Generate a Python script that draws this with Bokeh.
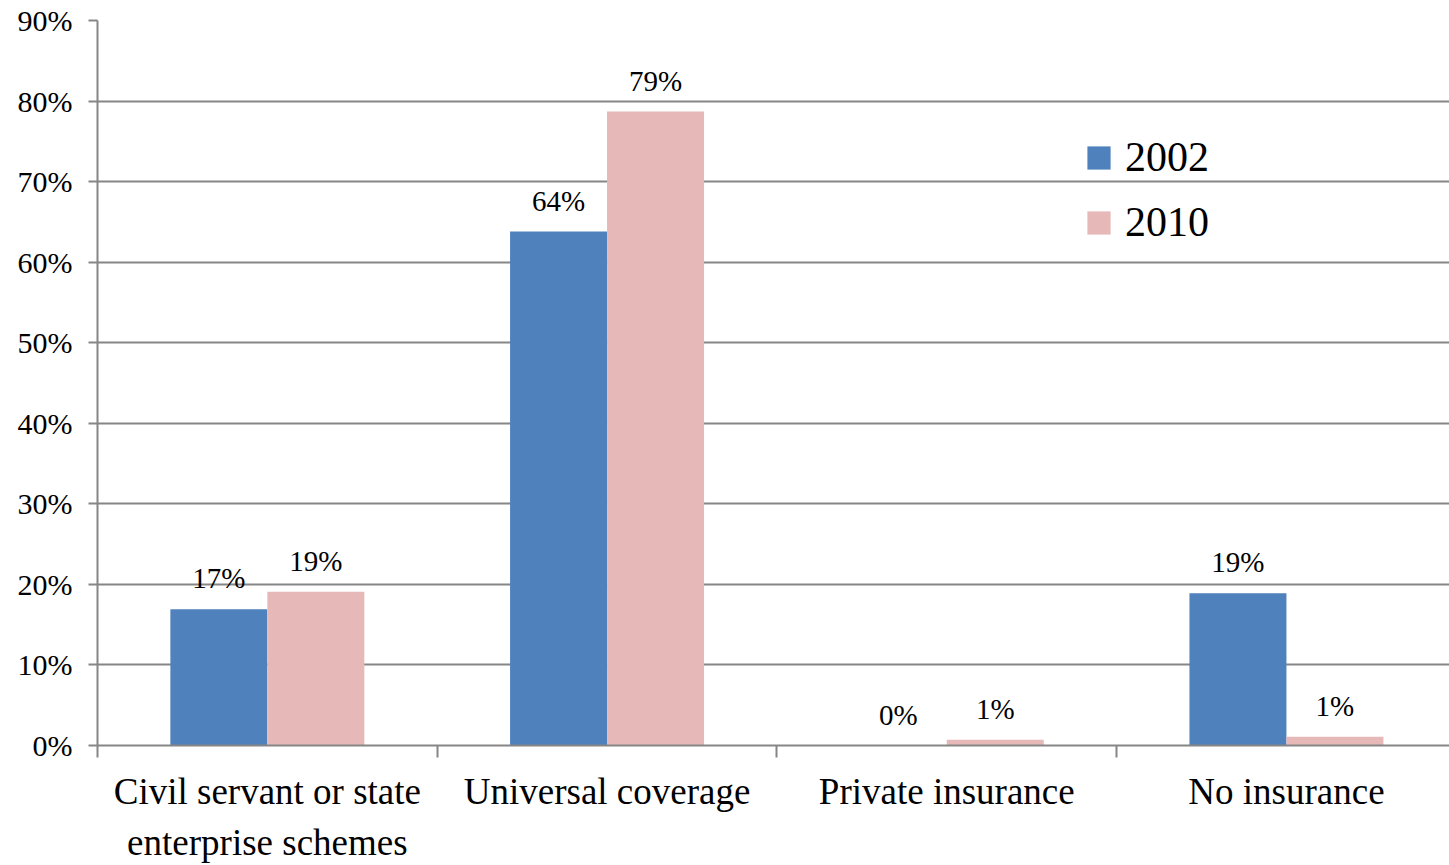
from bokeh.plotting import figure
from bokeh.models import (ColumnDataSource, FixedTicker, PrintfTickFormatter, Range1d,
                          Legend, LegendItem)
from bokeh.embed import file_html
from bokeh.resources import INLINE
from bokeh.core.properties import value

categories = ["Civil servant or state\nenterprise schemes", "Universal coverage",
              "Private insurance", "No insurance"]
series_names = ["2002", "2010"]
values_2002 = [16.9, 63.8, 0.0, 18.9]
values_2010 = [19.1, 78.7, 0.7, 1.1]
labels_2002 = ["17%", "64%", "0%", "19%"]
labels_2010 = ["19%", "79%", "1%", "1%"]
colors = ["#4F81BD", "#E6B9B8"]
y_ticks = [0, 10, 20, 30, 40, 50, 60, 70, 80, 90]

FONT = "Liberation Serif"
GRAY = "#868686"

centers = [i + 0.5 for i in range(len(categories))]
bw = 0.2855

p = figure(width=1449, height=865, output_backend="svg", toolbar_location=None,
           x_range=Range1d(0, 3.98), y_range=Range1d(0, 90),
           min_border_left=97, min_border_right=0, min_border_top=20, min_border_bottom=120)
p.outline_line_color = None
p.background_fill_color = "white"
p.border_fill_color = "white"

src1 = ColumnDataSource(dict(x=[c - bw / 2 for c in centers], top=values_2002, lab=labels_2002))
src2 = ColumnDataSource(dict(x=[c + bw / 2 for c in centers], top=values_2010, lab=labels_2010))

r1 = p.vbar(x="x", top="top", bottom=0, width=bw, source=src1, fill_color=colors[0], line_color=None)
r2 = p.vbar(x="x", top="top", bottom=0, width=bw, source=src2, fill_color=colors[1], line_color=None)

for s in (src1, src2):
    p.text(x="x", y="top", text="lab", source=s, text_align="center", text_baseline="middle",
           y_offset=-31, text_font=value(FONT), text_font_size="29px", text_color="black")

# grid
p.xgrid.grid_line_color = None
p.ygrid.grid_line_color = GRAY
p.ygrid.grid_line_width = 2
p.ygrid.ticker = FixedTicker(ticks=y_ticks)

# y axis
p.yaxis.ticker = FixedTicker(ticks=y_ticks)
p.yaxis.formatter = PrintfTickFormatter(format="%d%%")
p.yaxis.axis_line_color = GRAY
p.yaxis.axis_line_width = 2
p.yaxis.major_tick_line_color = GRAY
p.yaxis.major_tick_line_width = 2
p.yaxis.major_tick_out = 9
p.yaxis.major_tick_in = 0
p.yaxis.minor_tick_line_color = None
p.yaxis.major_label_text_font = FONT
p.yaxis.major_label_text_font_size = "30px"
p.yaxis.major_label_text_color = "black"
p.yaxis.major_label_standoff = 16

# x axis
p.xaxis.ticker = FixedTicker(ticks=centers, minor_ticks=list(range(len(categories) + 1)))
p.xaxis.major_label_overrides = {c: name for c, name in zip(centers, categories)}
p.xaxis.axis_line_color = GRAY
p.xaxis.axis_line_width = 2
p.xaxis.major_tick_line_color = None
p.xaxis.major_tick_out = 12
p.xaxis.major_tick_in = 0
p.xaxis.minor_tick_line_color = GRAY
p.xaxis.minor_tick_line_width = 2
p.xaxis.minor_tick_out = 12
p.xaxis.minor_tick_in = 0
p.xaxis.major_label_text_font = FONT
p.xaxis.major_label_text_font_size = "37px"
p.xaxis.major_label_text_color = "black"
p.xaxis.major_label_standoff = 13
p.xaxis.major_label_text_line_height = 1.25

legend = Legend(items=[LegendItem(label=series_names[0], renderers=[r1]),
                       LegendItem(label=series_names[1], renderers=[r2])],
                location=(987, 498), orientation="vertical")
legend.border_line_color = None
legend.background_fill_alpha = 0
legend.label_text_font = FONT
legend.label_text_font_size = "42px"
legend.label_text_color = "black"
legend.glyph_width = 29
legend.glyph_height = 29
legend.label_standoff = 12
legend.label_height = 50
legend.spacing = 15
legend.padding = 5
legend.margin = 0
p.add_layout(legend)

open("out.html", "w").write(file_html(p, INLINE))
